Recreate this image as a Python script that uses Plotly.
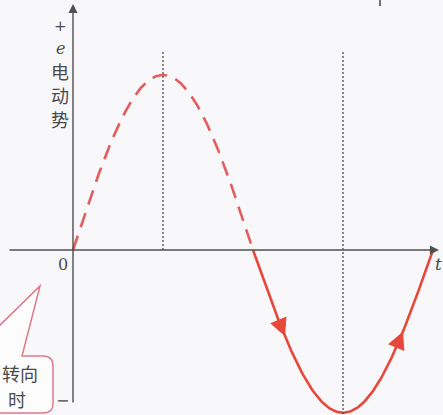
import numpy as np
import plotly.graph_objects as go

# Phase in degrees (one degree per horizontal pixel), EMF in units of the peak
half_cycle_start = [0, 180]
half_cycle_end = [180, 360]
half_cycle_peak = [1.0, 0.93]          # peak EMF of the positive / negative half cycle
half_cycle_style = ["dash", "solid"]   # first half drawn dashed, second solid
direction_marks = [212, 330]           # phases where direction arrows sit on the curve
guide_phases = [90, 270]               # vertical guides at the extremes

RED_DASH = "#e35d5f"
RED = "#e8473b"
AXIS = "#505050"
GUIDE = "#4f4f4f"
CALLOUT = "#e0788a"
TEXT = "#4a4a4a"

Y_UNIT = 175.0            # pixels per unit EMF
X0, Y0 = 73, 250          # pixel position of the origin
W, H = 443, 415


def ex(p):
    return p - X0


def ey(p):
    return (Y0 - p) / Y_UNIT


def emf(t_deg):
    t = np.asarray(t_deg, dtype=float)
    amp = np.where(t <= 180, half_cycle_peak[0], half_cycle_peak[1])
    return amp * np.sin(np.radians(t))


fig = go.Figure()

for t0, t1, style in zip(half_cycle_start, half_cycle_end, half_cycle_style):
    t = np.linspace(t0, t1, 181)
    fig.add_trace(go.Scatter(
        x=t, y=emf(t), mode="lines",
        line=dict(color=RED_DASH if style == "dash" else RED, width=2.6,
                  dash="15px,9px" if style == "dash" else "solid"),
        hoverinfo="skip", showlegend=False))

# vertical guides through the peak and the trough
guide_top = ey(52)
for g in guide_phases:
    bottom = 0 if g < 180 else ey(H + 2)
    fig.add_shape(type="line", x0=g, x1=g, y0=guide_top, y1=bottom,
                  line=dict(color=GUIDE, width=1.3, dash="2px,2px"))

annotations = []

# axes with arrowheads
annotations.append(dict(x=0, y=ey(4), ax=0, ay=ey(404), xref="x", yref="y",
                        axref="x", ayref="y", text="", showarrow=True,
                        arrowhead=2, arrowsize=1.3, arrowwidth=1.4, arrowcolor=AXIS))
annotations.append(dict(x=ex(439), y=0, ax=ex(8), ay=0, xref="x", yref="y",
                        axref="x", ayref="y", text="", showarrow=True,
                        arrowhead=2, arrowsize=1.3, arrowwidth=1.4, arrowcolor=AXIS))

# direction arrows riding on the solid half
for t in direction_marks:
    t_prev = t - 4
    annotations.append(dict(x=t, y=float(emf(t)), ax=t_prev, ay=float(emf(t_prev)),
                            xref="x", yref="y", axref="x", ayref="y", text="",
                            showarrow=True, arrowhead=2, arrowsize=1.6,
                            arrowwidth=2.2, arrowcolor=RED))

serif = "DejaVu Serif, Liberation Serif, serif"
cjk = "Noto Sans CJK SC"


def label(px, py, text, size, family, color=TEXT):
    annotations.append(dict(x=ex(px), y=ey(py), xref="x", yref="y", text=text,
                            showarrow=False, borderpad=0,
                            font=dict(size=size, family=family, color=color),
                            xanchor="center", yanchor="middle"))


label(60, 26, "+", 15, serif)
label(60, 48, "<i>e</i>", 16, serif)
label(60, 71, "电", 18, cjk)
label(60, 95, "动", 18, cjk)
label(60, 119, "势", 18, cjk)
label(63, 264, "0", 16, serif)
label(438, 264, "<i>t</i>", 17, serif)
label(62, 400, "−", 16, serif)

# callout bubble at the lower left
path_px = [(-6, 331), (40, 286), (22, 356), (43, 356)]
path = "M {},{} L {},{} L {},{} L {},{}".format(
    *[v for p in path_px for v in (ex(p[0]), ey(p[1]))])
path += " Q {},{} {},{}".format(ex(53), ey(356), ex(53), ey(366))
path += " L {},{}".format(ex(53), ey(404))
path += " Q {},{} {},{}".format(ex(53), ey(413), ex(43), ey(413))
path += " L {},{}".format(ex(-6), ey(413))
fig.add_shape(type="path", path=path, xref="x", yref="y",
              line=dict(color=CALLOUT, width=1.5), fillcolor="rgba(255,255,255,0.6)",
              layer="below")
label(20, 373, "转向", 18, cjk)
label(17, 399, "时", 18, cjk)

# small mark at the top edge
fig.add_shape(type="line", x0=ex(380), x1=ex(380), y0=ey(-2), y1=ey(6),
              line=dict(color=AXIS, width=1.6))

fig.update_layout(
    width=W, height=H,
    margin=dict(l=0, r=0, t=0, b=0),
    paper_bgcolor="#f8f8fa", plot_bgcolor="#f8f8fa",
    xaxis=dict(range=[ex(0), ex(W)], visible=False, fixedrange=True),
    yaxis=dict(range=[ey(H), ey(0)], visible=False, fixedrange=True),
    annotations=annotations,
    showlegend=False,
)

fig.write_html("out.html")
